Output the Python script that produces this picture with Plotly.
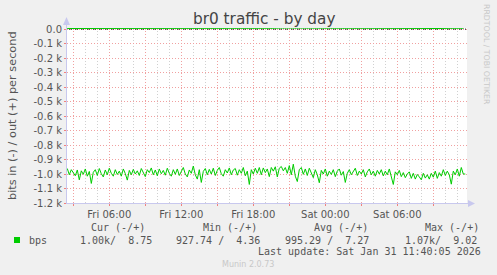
import plotly.graph_objects as go
import pandas as pd

# ---------------- data ----------------
title_text = "br0 traffic - by day"
y_axis_title = "bits in (-) / out (+) per second"

in_start = "2026-01-30 02:30"
# bits in per second, 10-minute samples (plotted negative)
bits_in = [
    962, 1005, 970, 995, 1012, 972, 1040, 978, 1002, 965, 1015, 982,
    1065, 988, 970, 1010, 962, 998, 1020, 972, 1005, 960, 995, 1015,
    970, 1003, 980, 1015, 965, 997, 1042, 975, 1005, 968, 1000, 978,
    1010, 962, 995, 1018, 970, 990, 958, 1005, 972, 1012, 965, 998,
    975, 1008, 960, 995, 1015, 970, 1002, 965, 1010, 980, 955, 1000,
    1020, 972, 995, 945, 1005, 1035, 970, 1058, 982, 962, 1005, 968,
    1000, 960, 1010, 975, 955, 998, 1015, 970, 993, 958, 1005, 972,
    962, 1008, 970, 995, 955, 1012, 980, 1072, 970, 1000, 960, 995,
    955, 1005, 958, 990, 965, 1018, 955, 980, 950, 1020, 960, 948,
    978, 955, 995, 942, 1005, 932, 1015, 1052, 970, 955, 1002, 965,
    1010, 960, 995, 1025, 970, 1005, 1060, 975, 1000, 965, 1015, 980,
    1003, 970, 1018, 980, 965, 1008, 983, 1058, 995, 970, 1005, 980,
    960, 1010, 980, 1000, 970, 1020, 985, 965, 1005, 980, 1015, 975,
    1000, 970, 1013, 980, 1005, 965, 1020, 1072, 985, 1005, 975, 1018,
    990, 1025, 1000, 985, 1030, 995, 1035, 1003, 1020, 1040, 995, 1028,
    1005, 1035, 995, 1022, 980, 1030, 990, 1015, 970, 1010, 980, 1005,
    1070, 980, 1005, 965, 1015, 955, 1000, 1000,
]

out_start = "2026-01-30 02:30"
# bits out per second, hourly samples
bits_out = [
    7.1, 6.8, 7.5, 8.2, 6.9, 7.3, 5.9, 7.8, 8.4, 7.0, 6.5, 7.2,
    7.9, 8.6, 7.4, 6.2, 7.0, 7.6, 9.02, 8.1, 6.7, 7.3, 4.36, 6.9,
    7.5, 8.0, 7.1, 6.6, 7.7, 8.3, 7.2, 6.8, 7.4, 8.75,
]

y_ticks = [0, -100, -200, -300, -400, -500, -600, -700, -800, -900, -1000, -1100, -1200]
y_tick_labels = ["0.0", "-0.1 k", "-0.2 k", "-0.3 k", "-0.4 k", "-0.5 k", "-0.6 k",
                 "-0.7 k", "-0.8 k", "-0.9 k", "-1.0 k", "-1.1 k", "-1.2 k"]

x_tick_times = ["2026-01-30 03:00", "2026-01-30 06:00", "2026-01-30 09:00", "2026-01-30 12:00",
                "2026-01-30 15:00", "2026-01-30 18:00", "2026-01-30 21:00", "2026-01-31 00:00",
                "2026-01-31 03:00", "2026-01-31 06:00", "2026-01-31 09:00"]
x_tick_labels = ["", "Fri 06:00", "", "Fri 12:00", "", "Fri 18:00", "", "Sat 00:00",
                 "", "Sat 06:00", ""]
x_range = ["2026-01-30 02:28:30", "2026-01-31 11:48:30"]

legend_headers = ["Cur (-/+)", "Min (-/+)", "Avg (-/+)", "Max (-/+)"]
legend_series = "bps"
legend_values = ["1.00k/  8.75", "927.74 /  4.36", "995.29 /  7.27", "1.07k/  9.02"]
last_update = "Last update: Sat Jan 31 11:40:05 2026"
munin_version = "Munin 2.0.73"
rrd_credit = "RRDTOOL / TOBI OETIKER"

# ---------------- layout geometry ----------------
W, H = 497, 275
L, R, T, B = 67, 467, 28, 203

def px(x):
    return (x - L) / (R - L)

def py(y):
    return (B - y) / (B - T)

GREEN = "#00CC00"
TXT = "#555555"
AX = "#C8C8EE"

times_in = pd.date_range(in_start, periods=len(bits_in), freq="10min")
times_out = pd.date_range(out_start, periods=len(bits_out), freq="60min")

fig = go.Figure()
fig.add_trace(go.Scatter(x=times_in, y=[-v for v in bits_in], mode="lines",
                         line=dict(color=GREEN, width=1), hoverinfo="skip"))
fig.add_trace(go.Scatter(x=times_out, y=bits_out, mode="lines",
                         line=dict(color=GREEN, width=1.5), hoverinfo="skip"))

shapes = []
# black dotted zero line
shapes.append(dict(type="line", xref="paper", yref="y", x0=0, x1=1, y0=0, y1=0,
                   line=dict(color="black", width=1, dash="1px,1px"), layer="below"))
# y axis extension + arrow
shapes.append(dict(type="line", xref="paper", yref="paper", x0=px(66.5), x1=px(66.5),
                   y0=1, y1=py(22), line=dict(color=AX, width=1)))
shapes.append(dict(type="path", xref="paper", yref="paper",
                   path=f"M {px(63)} {py(25)} L {px(70)} {py(25)} L {px(66.5)} {py(17)} Z",
                   fillcolor=AX, line=dict(width=0)))
# x axis extension + arrow
shapes.append(dict(type="line", xref="paper", yref="paper", x0=1, x1=px(470),
                   y0=py(203.5), y1=py(203.5), line=dict(color=AX, width=1)))
shapes.append(dict(type="path", xref="paper", yref="paper",
                   path=f"M {px(468)} {py(200)} L {px(468)} {py(207)} L {px(475)} {py(203.5)} Z",
                   fillcolor=AX, line=dict(width=0)))
# legend swatch
shapes.append(dict(type="rect", xref="paper", yref="paper", x0=px(14), x1=px(20),
                   y0=py(243), y1=py(237), fillcolor=GREEN, line=dict(width=0)))

MONO = "DejaVu Sans Mono"
ann = []
ann.append(dict(text=title_text, x=px(264), y=py(19), xref="paper", yref="paper",
                showarrow=False, xanchor="center", yanchor="middle",
                font=dict(family="DejaVu Sans", size=15.3, color="#444444")))
ann.append(dict(text=y_axis_title, x=px(12), y=py(116), xref="paper", yref="paper",
                showarrow=False, textangle=-90, xanchor="center", yanchor="middle",
                font=dict(family="DejaVu Sans", size=11.3, color=TXT)))
ann.append(dict(text=rrd_credit, x=px(487), y=py(54), xref="paper", yref="paper",
                showarrow=False, textangle=90, xanchor="center", yanchor="middle",
                font=dict(family="DejaVu Sans", size=7.8, color="#C8C8C8")))
header_x = [89.3, 201, 312, 422.7]
for hx, h in zip(header_x, legend_headers):
    ann.append(dict(text=h, x=px(hx), y=py(227.5), xref="paper", yref="paper",
                    showarrow=False, xanchor="left", yanchor="middle",
                    font=dict(family=MONO, size=10, color=TXT)))
ann.append(dict(text=legend_series, x=px(26.5), y=py(240), xref="paper", yref="paper",
                showarrow=False, xanchor="left", yanchor="middle",
                font=dict(family=MONO, size=10, color=TXT)))
value_x = [78, 174, 282.7, 403.3]
for vx, v in zip(value_x, legend_values):
    ann.append(dict(text=v.replace(" ", "&nbsp;"), x=px(vx), y=py(240), xref="paper", yref="paper",
                    showarrow=False, xanchor="left", yanchor="middle",
                    font=dict(family=MONO, size=10, color=TXT)))
ann.append(dict(text=last_update, x=px(483), y=py(251.7), xref="paper", yref="paper",
                showarrow=False, xanchor="right", yanchor="middle",
                font=dict(family=MONO, size=10, color=TXT)))
ann.append(dict(text=munin_version, x=px(248), y=py(264), xref="paper", yref="paper",
                showarrow=False, xanchor="center", yanchor="middle",
                font=dict(family="DejaVu Sans", size=8, color="#C8C8C8")))

fig.update_layout(
    width=W, height=H,
    margin=dict(l=L, r=W - R, t=T, b=H - B, pad=0),
    paper_bgcolor="#F0F0F0", plot_bgcolor="white",
    showlegend=False,
    shapes=shapes, annotations=ann,
    font=dict(family="DejaVu Sans", size=10, color=TXT),
)
fig.update_xaxes(
    range=x_range, type="date",
    tickmode="array", tickvals=x_tick_times, ticktext=x_tick_labels,
    showgrid=True, gridcolor="#F0A0A0", griddash="1px,2px", gridwidth=1,
    ticks="outside", ticklen=2, tickcolor="#F08080",
    tickfont=dict(family="DejaVu Sans", size=10, color=TXT),
    showline=True, linecolor=AX, linewidth=1, zeroline=False,
    minor=dict(dtick=3600000, tick0="2026-01-30 00:00", showgrid=True,
               gridcolor="#D0D0D0", griddash="1px,2px", gridwidth=1, ticks=""),
    fixedrange=True,
)
fig.update_yaxes(
    range=[-1200, 8],
    tickmode="array", tickvals=y_ticks, ticktext=y_tick_labels,
    showgrid=True, gridcolor="#F0A0A0", griddash="1px,2px", gridwidth=1,
    ticks="outside", ticklen=2, tickcolor="#F08080",
    tickfont=dict(family="DejaVu Sans", size=10, color=TXT),
    showline=True, linecolor=AX, linewidth=1, zeroline=False,
    fixedrange=True,
)

fig.write_html("out.html", config={"displayModeBar": False})
